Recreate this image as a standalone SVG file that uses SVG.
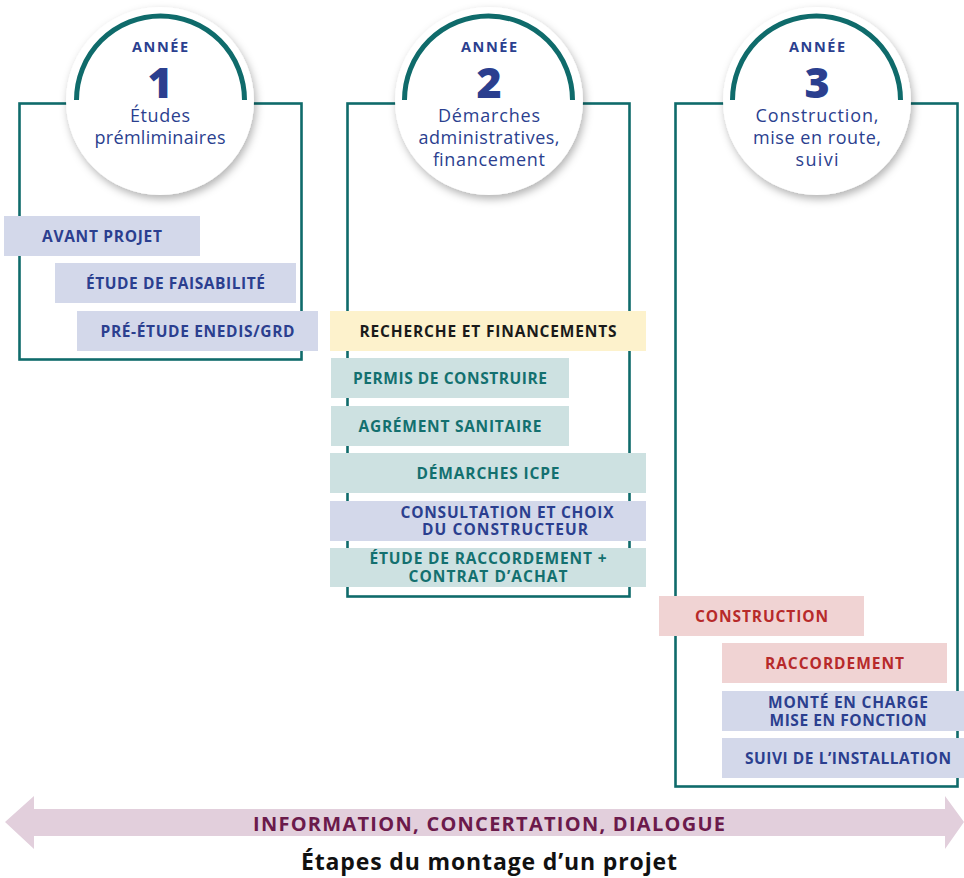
<svg xmlns="http://www.w3.org/2000/svg" width="964" height="878" viewBox="0 0 964 878">
<defs>
<filter id="sh" x="-20%" y="-20%" width="140%" height="140%">
<feDropShadow dx="2" dy="4" stdDeviation="4" flood-color="#000" flood-opacity="0.3"/>
</filter>
<style>
.box{fill:none;stroke:#0f6b6b;stroke-width:2.6}
.circ{fill:#fff;filter:url(#sh)}
.arc{fill:none;stroke:#0f6b6b;stroke-width:5}
.ct{font-family:"Open Sans","Noto Sans",sans-serif;fill:#2b3f8f;text-anchor:middle}
.an{font-size:14.5px;font-weight:700}
.num{font-size:43px;font-weight:800}
.sub{font-size:18px}
.bt{font-family:"Open Sans","Noto Sans",sans-serif;font-size:15.5px;font-weight:700;text-anchor:middle}
.lav{fill:#d3d8ea}.lavt{fill:#2b3f8f}
.tea{fill:#cde1e1}.teat{fill:#13706f}
.yel{fill:#fdf2cc}.yelt{fill:#1a1a1a}
.pnk{fill:#f0d3d3}.pnkt{fill:#b72a2a}
</style>
</defs>
<rect width="964" height="878" fill="#fff"/>

<g id="year1">
<rect class="box" x="19.5" y="103.5" width="282" height="256"/>
<circle class="circ" cx="160" cy="101" r="94"/>
<path class="arc" d="M76.5,100 A84,84 0 0 1 244.5,100"/>
<text class="ct an" x="160" y="52" textLength="56" lengthAdjust="spacing">ANNÉE</text>
<text class="ct num" x="160" y="98">1</text>
<text class="ct sub" x="160" y="122" textLength="60" lengthAdjust="spacing">Études</text>
<text class="ct sub" x="160" y="144" textLength="131" lengthAdjust="spacing">prémliminaires</text>
</g>
<g id="year2">
<rect class="box" x="347.5" y="103.5" width="282" height="493"/>
<circle class="circ" cx="489" cy="101" r="94"/>
<path class="arc" d="M404.5,100 A84,84 0 0 1 572.5,100"/>
<text class="ct an" x="489" y="52" textLength="56" lengthAdjust="spacing">ANNÉE</text>
<text class="ct num" x="489" y="98">2</text>
<text class="ct sub" x="489" y="122" textLength="102" lengthAdjust="spacing">Démarches</text>
<text class="ct sub" x="489" y="144" textLength="141" lengthAdjust="spacing">administratives,</text>
<text class="ct sub" x="489" y="166" textLength="112" lengthAdjust="spacing">financement</text>
</g>
<g id="year3">
<rect class="box" x="675.5" y="103.5" width="282" height="683"/>
<circle class="circ" cx="817" cy="101" r="94"/>
<path class="arc" d="M732.5,100 A84,84 0 0 1 900.5,100"/>
<text class="ct an" x="817" y="52" textLength="56" lengthAdjust="spacing">ANNÉE</text>
<text class="ct num" x="817" y="98">3</text>
<text class="ct sub" x="817" y="122" textLength="123" lengthAdjust="spacing">Construction,</text>
<text class="ct sub" x="817" y="144" textLength="128" lengthAdjust="spacing">mise en route,</text>
<text class="ct sub" x="817" y="166" textLength="43" lengthAdjust="spacing">suivi</text>
</g>

<g id="avant-projet"><rect class="lav" x="4" y="216" width="196" height="40"/><text class="bt lavt" x="102" y="242" textLength="120" lengthAdjust="spacing">AVANT PROJET</text></g>
<g id="etude-faisabilite"><rect class="lav" x="55" y="263" width="241" height="40"/><text class="bt lavt" x="175.5" y="289" textLength="179" lengthAdjust="spacing">ÉTUDE DE FAISABILITÉ</text></g>
<g id="pre-etude"><rect class="lav" x="77" y="311" width="241" height="40"/><text class="bt lavt" x="197.5" y="337" textLength="194" lengthAdjust="spacing">PRÉ-ÉTUDE ENEDIS/GRD</text></g>

<g id="recherche"><rect class="yel" x="330" y="311" width="316" height="40"/><text class="bt yelt" x="488" y="337" textLength="257" lengthAdjust="spacing">RECHERCHE ET FINANCEMENTS</text></g>
<g id="permis"><rect class="tea" x="331" y="358" width="238" height="40"/><text class="bt teat" x="450" y="384" textLength="194" lengthAdjust="spacing">PERMIS DE CONSTRUIRE</text></g>
<g id="agrement"><rect class="tea" x="331" y="406" width="238" height="40"/><text class="bt teat" x="450" y="432" textLength="183" lengthAdjust="spacing">AGRÉMENT SANITAIRE</text></g>
<g id="icpe"><rect class="tea" x="330" y="453" width="316" height="40"/><text class="bt teat" x="488" y="479" textLength="143" lengthAdjust="spacing">DÉMARCHES ICPE</text></g>
<g id="consultation"><rect class="lav" x="330" y="501" width="316" height="40"/><text class="bt lavt" x="507" y="518" textLength="213" lengthAdjust="spacing">CONSULTATION ET CHOIX</text><text class="bt lavt" x="505" y="535" textLength="166" lengthAdjust="spacing">DU CONSTRUCTEUR</text></g>
<g id="etude-raccordement"><rect class="tea" x="330" y="548" width="316" height="39"/><text class="bt teat" x="488" y="564" textLength="237" lengthAdjust="spacing">ÉTUDE DE RACCORDEMENT +</text><text class="bt teat" x="488" y="582" textLength="159" lengthAdjust="spacing">CONTRAT D’ACHAT</text></g>

<g id="construction"><rect class="pnk" x="659" y="596" width="205" height="40"/><text class="bt pnkt" x="761.5" y="622" textLength="133" lengthAdjust="spacing">CONSTRUCTION</text></g>
<g id="raccordement"><rect class="pnk" x="722" y="643" width="225" height="40"/><text class="bt pnkt" x="834.5" y="669" textLength="139" lengthAdjust="spacing">RACCORDEMENT</text></g>
<g id="monte-en-charge"><rect class="lav" x="722" y="691" width="242" height="40"/><text class="bt lavt" x="848" y="708" textLength="160" lengthAdjust="spacing">MONTÉ EN CHARGE</text><text class="bt lavt" x="848" y="726" textLength="157" lengthAdjust="spacing">MISE EN FONCTION</text></g>
<g id="suivi"><rect class="lav" x="722" y="738" width="242" height="40"/><text class="bt lavt" x="848" y="764" textLength="206" lengthAdjust="spacing">SUIVI DE L’INSTALLATION</text></g>

<g id="connectors">
<polygon points="5,822 34,796 34,809 945,809 945,796 964,822 945,849 945,836 34,836 34,849" fill="#e2cfdc"/>
<text x="489" y="831" font-family="'Open Sans','Noto Sans',sans-serif" font-size="20" font-weight="700" fill="#6b1a4b" text-anchor="middle" textLength="472" lengthAdjust="spacing">INFORMATION, CONCERTATION, DIALOGUE</text>
</g>
<text x="489" y="870" font-family="'Open Sans','Noto Sans',sans-serif" font-size="23" font-weight="700" fill="#111" text-anchor="middle" textLength="376" lengthAdjust="spacing">Étapes du montage d’un projet</text>
</svg>
